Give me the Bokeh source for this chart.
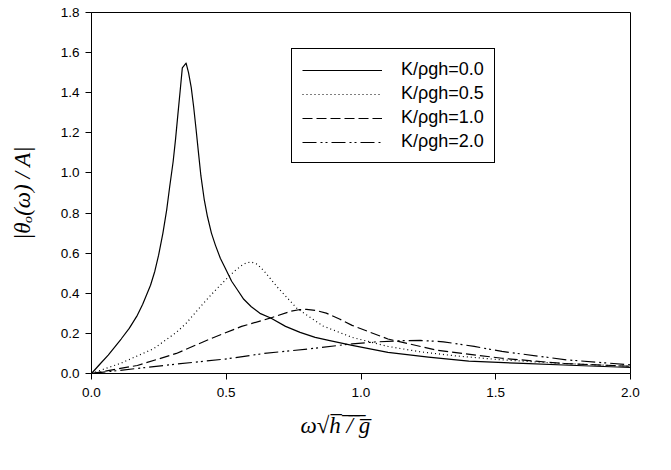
from bokeh.plotting import figure
from bokeh.models import Legend, LegendItem, Title, FixedTicker, NumeralTickFormatter, Range1d
from bokeh.embed import file_html
from bokeh.resources import INLINE

# Data
x_k00 = [0.0, 0.03, 0.062, 0.11, 0.14, 0.17, 0.19, 0.219, 0.235, 0.249, 0.265, 0.279,
         0.29, 0.303, 0.312, 0.321, 0.329, 0.337, 0.351, 0.36, 0.37, 0.379, 0.388,
         0.397, 0.406, 0.418, 0.43, 0.445, 0.46, 0.478, 0.496, 0.52, 0.54, 0.565,
         0.593, 0.625, 0.665, 0.72, 0.774, 0.83, 0.88, 0.967, 1.1, 1.25, 1.4, 1.6,
         1.8, 2.0]
y_k00 = [0.0, 0.045, 0.092, 0.172, 0.225, 0.29, 0.345, 0.44, 0.51, 0.59, 0.70, 0.816,
         0.93, 1.057, 1.17, 1.298, 1.41, 1.524, 1.548, 1.50, 1.427, 1.33, 1.218,
         1.10, 0.985, 0.87, 0.784, 0.70, 0.639, 0.575, 0.526, 0.46, 0.42, 0.37,
         0.333, 0.30, 0.277, 0.235, 0.205, 0.18, 0.165, 0.14, 0.105, 0.082, 0.062,
         0.05, 0.04, 0.03]

x_k05 = [0.0, 0.11, 0.231, 0.315, 0.351, 0.38, 0.412, 0.456, 0.496, 0.53, 0.557, 0.575,
         0.593, 0.615, 0.641, 0.69, 0.762, 0.859, 0.967, 1.1, 1.221, 1.35, 1.523, 1.75,
         2.0]
y_k05 = [0.0, 0.052, 0.124, 0.205, 0.25, 0.295, 0.345, 0.41, 0.465, 0.51, 0.538, 0.552,
         0.556, 0.545, 0.51, 0.43, 0.325, 0.237, 0.18, 0.135, 0.108, 0.088, 0.068, 0.05,
         0.036]

x_k10 = [0.0, 0.17, 0.315, 0.436, 0.557, 0.665, 0.738, 0.77, 0.798, 0.83, 0.871, 0.92,
         0.967, 1.1, 1.281, 1.523, 1.75, 2.0]
y_k10 = [0.0, 0.04, 0.10, 0.17, 0.235, 0.277, 0.310, 0.318, 0.32, 0.315, 0.301, 0.272,
         0.24, 0.172, 0.116, 0.076, 0.05, 0.036]

x_k20 = [0.0, 0.315, 0.496, 0.641, 0.822, 0.967, 1.05, 1.137, 1.22, 1.306, 1.42, 1.523,
         1.764, 2.0]
y_k20 = [0.0, 0.047, 0.072, 0.10, 0.125, 0.148, 0.157, 0.163, 0.165, 0.158, 0.135, 0.11,
         0.068, 0.043]

labels = ["K/ρgh=0.0", "K/ρgh=0.5", "K/ρgh=1.0", "K/ρgh=2.0"]
x_ticks = [0.0, 0.5, 1.0, 1.5, 2.0]
y_ticks = [0.0, 0.2, 0.4, 0.6, 0.8, 1.0, 1.2, 1.4, 1.6, 1.8]

p = figure(width=655, height=454, output_backend="svg", toolbar_location=None,
           x_range=Range1d(0, 2), y_range=Range1d(0, 1.8), title=None,
           min_border_left=91, min_border_right=25, min_border_top=12, min_border_bottom=81)
p.background_fill_color = "white"
p.border_fill_color = "white"
p.outline_line_color = "black"
p.outline_line_width = 1
p.outline_line_alpha = 1
p.xgrid.visible = False
p.ygrid.visible = False

for ax in (p.xaxis, p.yaxis):
    ax.major_tick_out = 6
    ax.major_tick_in = 0
    ax.minor_tick_out = 0
    ax.minor_tick_in = 0
    ax.axis_line_color = "black"
    ax.major_tick_line_color = "black"
    ax.major_label_text_font = "Liberation Sans"
    ax.major_label_text_font_size = "13.5px"
    ax.major_label_text_color = "black"
    ax.formatter = NumeralTickFormatter(format="0.0")

p.xaxis.ticker = FixedTicker(ticks=x_ticks)
p.yaxis.ticker = FixedTicker(ticks=y_ticks)
p.xaxis.major_label_standoff = 8
p.yaxis.major_label_standoff = 6

p.yaxis.axis_label = "|θₒ(ω) / A|"
p.yaxis.axis_label_text_font = "Liberation Serif"
p.yaxis.axis_label_text_font_style = "italic"
p.yaxis.axis_label_text_font_size = "23px"
p.yaxis.axis_label_text_color = "black"
p.yaxis.axis_label_standoff = 23

xlabel = "ω√" + "".join(c + "\u0305" for c in "h / g")
p.add_layout(Title(text=xlabel, align="left", offset=209, text_font="Liberation Serif",
                   text_font_style="italic", text_font_size="23px", text_color="black",
                   standoff=23), "below")

kw = dict(line_color="black", line_width=1.2, line_join="round")
r0 = p.line(x_k00, y_k00, **kw)
r1 = p.line(x_k05, y_k05, line_dash="1 3", **kw)
r2 = p.line(x_k10, y_k10, line_dash="10 4", **kw)
r3 = p.line(x_k20, y_k20, line_dash="14 4 2 3 2 4", **kw)

legend = Legend(items=[LegendItem(label=labels[i], renderers=[r]) for i, r in enumerate([r0, r1, r2, r3])],
                location=(200, 210), orientation="vertical",
                border_line_color="black", border_line_width=1, border_line_alpha=1,
                background_fill_color="white", background_fill_alpha=1,
                padding=10, spacing=3, margin=0, glyph_width=80, glyph_height=20,
                label_height=20, label_standoff=19,
                label_text_font="Liberation Sans", label_text_font_size="18px",
                label_text_color="black")
p.add_layout(legend, "center")

open("out.html", "w").write(file_html(p, INLINE))
